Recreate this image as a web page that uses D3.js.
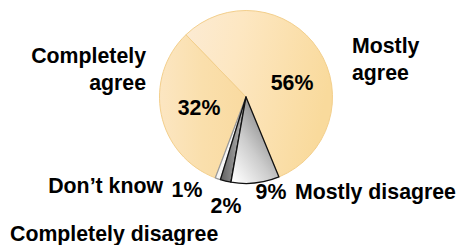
<!DOCTYPE html>
<html>
<head>
<meta charset="utf-8">
<script src="https://cdn.jsdelivr.net/npm/d3@7"></script>
<style>
  html, body { margin: 0; padding: 0; background: #fff; }
  svg { display: block; }
  text { font-family: "Liberation Sans", Arial, sans-serif; font-weight: bold; fill: #000; }
</style>
</head>
<body>
<svg id="chart" width="459" height="245"></svg>
<script>
// ---- data ----
const categories = ["Mostly agree", "Mostly disagree", "Completely disagree", "Don’t know", "Completely agree"];
const values = [56, 9, 2, 1, 32];
const percentLabels = ["56%", "9%", "2%", "1%", "32%"];

// ---- styles / layout ----
const W = 459, H = 245;
const cx = 246, cy = 97, R = 86.5;
const startDeg = -44;
const fontSize = 21.3;

const svg = d3.select("#chart");
const defs = svg.append("defs");

function lg(id, x1, y1, x2, y2, stops) {
  const g = defs.append("linearGradient").attr("id", id)
    .attr("x1", x1).attr("y1", y1).attr("x2", x2).attr("y2", y2);
  stops.forEach(s => g.append("stop").attr("offset", s[0]).attr("stop-color", s[1]));
}
lg("gMA", 0, 0.1, 1, 0.35, [[0, "#FCEBD3"], [0.35, "#FDE7C2"], [1, "#F9DA9C"]]);
lg("gCA", 0, 0.5, 1, 0.5, [[0, "#FCE6C2"], [0.5, "#FADFAC"], [1, "#F9DAA0"]]);
lg("gMD", 0.1, 1, 0.9, 0, [[0, "#FFFFFF"], [0.4, "#CCCCCC"], [1, "#646464"]]);
lg("gCD", 0, 0.5, 1, 0.5, [[0, "#606060"], [1, "#BDBDBD"]]);
lg("gDK", 0, 0.5, 1, 0.5, [[0, "#F4F4F4"], [1, "#FFFFFF"]]);

const fills = ["url(#gMA)", "url(#gMD)", "url(#gCD)", "url(#gDK)", "url(#gCA)"];
const strokes = ["#F3CF8C", "#111", "#111", "#999", "#F3CF8C"];

const pie = d3.pie().sort(null)
  .startAngle(startDeg * Math.PI / 180)
  .endAngle(startDeg * Math.PI / 180 + 2 * Math.PI);
const arcs = pie(values);
const arc = d3.arc().innerRadius(0).outerRadius(R);

const g = svg.append("g").attr("transform", `translate(${cx},${cy})`);
// draw peach slices first, then grey ones on top
const order = [0, 4, 3, 2, 1];
order.forEach(i => {
  g.append("path")
    .attr("d", arc(arcs[i]))
    .attr("fill", fills[i])
    .attr("stroke", strokes[i])
    .attr("stroke-width", i === 0 || i === 4 ? 1 : 1.3)
    .attr("stroke-linejoin", "round");
});

// percent labels (centre x, baseline y)
const pctPos = [[292, 90], [271, 199], [226, 213], [187, 197], [199, 115]];
percentLabels.forEach((t, i) => {
  svg.append("text").attr("x", pctPos[i][0]).attr("y", pctPos[i][1])
    .attr("text-anchor", "middle").attr("font-size", fontSize).text(t);
});

// category labels: lines, anchor, x, first baseline
const catPos = [
  { lines: ["Mostly", "agree"], anchor: "start", x: 352, y: 53 },
  { lines: ["Mostly disagree"], anchor: "start", x: 295, y: 199 },
  { lines: ["Completely disagree"], anchor: "start", x: 10, y: 241 },
  { lines: [categories[3]], anchor: "end", x: 163, y: 193 },
  { lines: ["Completely", "agree"], anchor: "end", x: 146, y: 63 }
];
const lineGap = 27;
catPos.forEach(c => {
  const t = svg.append("text").attr("text-anchor", c.anchor).attr("font-size", fontSize);
  c.lines.forEach((l, j) => {
    t.append("tspan").attr("x", c.x).attr("y", c.y + j * lineGap).text(l);
  });
});
</script>
</body>
</html>
